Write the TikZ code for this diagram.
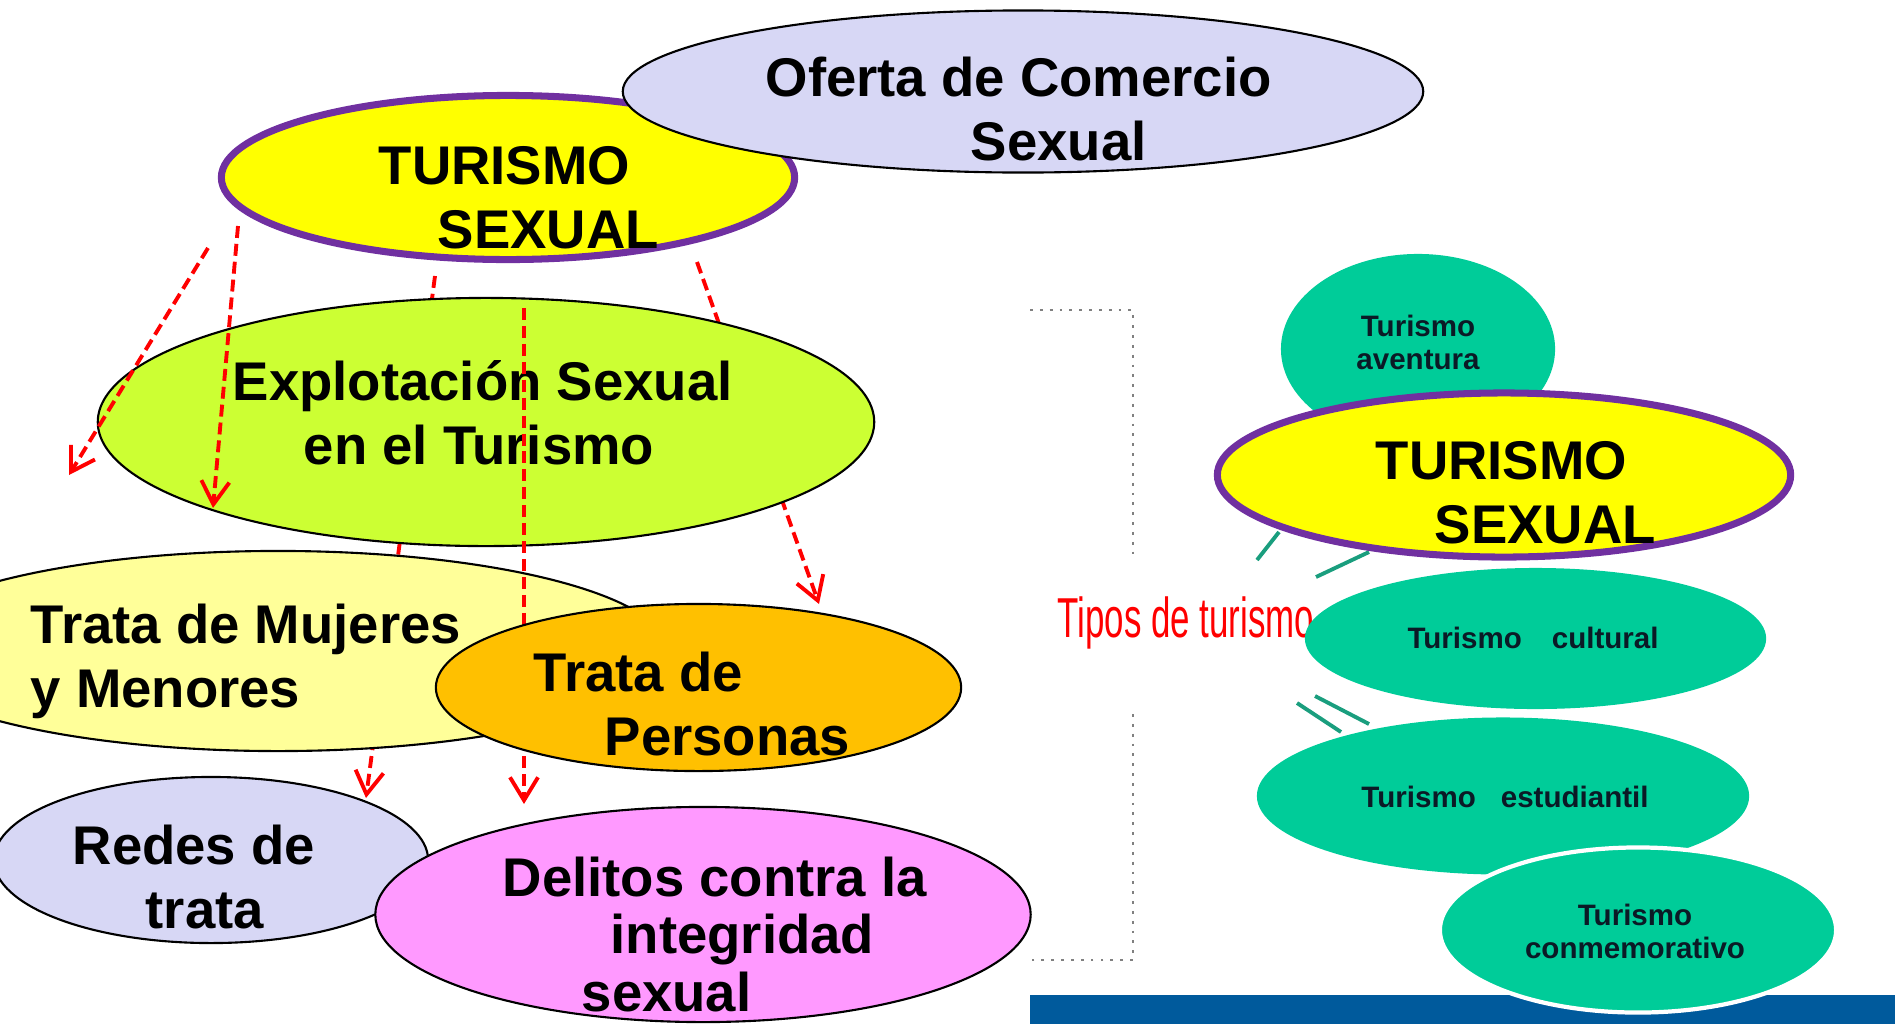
\documentclass[tikz,border=0pt]{standalone}
\usepackage{fontspec}
\setmainfont{Liberation Sans}
\usetikzlibrary{shapes.geometric,arrows.meta}
\definecolor{lavanda}{HTML}{D7D7F5}
\definecolor{lima}{HTML}{CCFF33}
\definecolor{crema}{HTML}{FFFF99}
\definecolor{naranja}{HTML}{FFC000}
\definecolor{rosa}{HTML}{FF99FF}
\definecolor{morado}{HTML}{7030A0}
\definecolor{amarillo}{HTML}{FFFF00}
\definecolor{verdeagua}{HTML}{00CC99}
\definecolor{verdelinea}{HTML}{1A9E7E}
\definecolor{azulbarra}{HTML}{005A9C}
\definecolor{tinta}{HTML}{0B1A26}

\begin{document}
\begin{tikzpicture}[x=0.01cm,y=-0.01cm,>={Straight Barb[length=2.3mm,width=2.8mm]},
  bubble/.style={ellipse,draw=black,line width=0.6pt,inner sep=0pt},
  tsbubble/.style={ellipse,draw=morado,line width=2pt,fill=amarillo,inner sep=0pt,
    minimum width=5.73cm,minimum height=1.64cm},
  tipo/.style={ellipse,fill=verdeagua,inner sep=0pt},
  bigtxt/.style={inner sep=0pt,anchor=base west,align=left,
    font=\bfseries\fontsize{15.5}{18}\selectfont},
  smalltxt/.style={inner sep=0pt,anchor=base,align=center,text=tinta,
    font=\bfseries\fontsize{8.4}{9.3}\selectfont},
  flecha/.style={red,line width=1.1pt,dash pattern=on 3.4pt off 1.7pt}]
  \useasboundingbox (0,0) rectangle (1895,1024);
  % dashed arrows that run behind the bubbles
  \coordinate (c1) at (435,276); \coordinate (c2) at (366,798);
  \coordinate (d1) at (697,262); \coordinate (d2) at (819,604);
  \draw[flecha,->] (c1) -- (c2);
  \draw[flecha,->] (d1) -- (d2);
  % TURISMO SEXUAL and the offer
  \node[tsbubble] (ts) at (508,177.5) {};
  \node[bigtxt] (tsT) at (378,248) {TURISMO\\\hspace*{0.59cm}SEXUAL};
  \node[bubble,fill=lavanda,minimum width=8.0cm,minimum height=1.62cm] (oferta) at (1023,91.5) {};
  \node[bigtxt] (ofertaT) at (765,160) {Oferta de Comercio\\\hspace*{2.05cm}Sexual};
  \node[bubble,fill=lima,minimum width=7.76cm,minimum height=2.48cm] (expl) at (486,422) {};
  \node[bigtxt] (explT) at (232,464) {Explotación Sexual\\\hspace*{0.71cm}en el Turismo};
  % arrows drawn over the green bubble
  \coordinate (a1) at (208,248); \coordinate (a2) at (69,475);
  \coordinate (b1) at (238,226); \coordinate (b2) at (213,508);
  \draw[flecha,->] (a1) -- (a2);
  \draw[flecha,->] (b1) -- (b2);
  \node[bubble,fill=crema,minimum width=7.8cm,minimum height=2.0cm] (mujeres) at (278,651) {};
  \node[bigtxt] (mujeresT) at (30,707) {Trata de Mujeres\\y Menores};
  \coordinate (v1) at (524,308); \coordinate (v2) at (524,804);
  \draw[flecha,->] (v1) -- (v2);
  \node[bubble,fill=naranja,minimum width=5.25cm,minimum height=1.67cm] (personas) at (698.5,687.5) {};
  \node[bigtxt] (personasT) at (533,755) {Trata de\\\hspace*{0.71cm}Personas};
  \node[bubble,fill=lavanda,minimum width=4.34cm,minimum height=1.66cm] (redes) at (211,860) {};
  \node[bigtxt] (redesT) at (72,928) {Redes de\\\hspace*{0.73cm}trata};
  \node[bubble,fill=rosa,minimum width=6.55cm,minimum height=2.15cm] (delitos) at (703,914.5) {};
  \node[bigtxt,font=\bfseries\fontsize{15.5}{16.3}\selectfont] (delitosT) at (502,1011)
    {Delitos contra la\\\hspace*{1.08cm}integridad\\\hspace*{0.79cm}sexual};
  % right half: types of tourism
  \draw[gray,dotted,line width=0.8pt] (1030,310) -- (1133,310) -- (1133,561);
  \draw[gray,dotted,line width=0.8pt] (1133,714) -- (1133,960) -- (1030,960);
  \node[anchor=base west,inner sep=0pt,text=red,font=\fontsize{16}{18}\selectfont] (tipos) at (1057,637)
    {\scalebox{0.62}[1]{Tipos de turismo}};
  \draw[verdelinea,line width=1.1pt] (1257,560) -- (1279,532);
  \draw[verdelinea,line width=1.1pt] (1316,577) -- (1369,552);
  \draw[verdelinea,line width=1.1pt] (1297,703) -- (1341,732);
  \draw[verdelinea,line width=1.1pt] (1315,696) -- (1369,724);
  \node[tipo,minimum width=2.74cm,minimum height=1.9cm] (aventura) at (1418,349) {};
  \node[smalltxt] (aventuraT) at (1418,369) {Turismo\\aventura};
  \node[tsbubble] (ts2) at (1504,475) {};
  \node[bigtxt] (ts2T) at (1375,543) {TURISMO\\\hspace*{0.59cm}SEXUAL};
  \node[tipo,minimum width=4.61cm,minimum height=1.41cm] (cultural) at (1535.5,638.5) {};
  \node[smalltxt] (culturalT) at (1533,648) {Turismo\hspace{0.3cm}cultural};
  \node[tipo,minimum width=4.92cm,minimum height=1.57cm] (estud) at (1503,796) {};
  \node[smalltxt] (estudT) at (1505,807) {Turismo\hspace{0.25cm}estudiantil};
  \fill[azulbarra] (1030,995) rectangle (1895,1024);
  \node[tipo,draw=white,line width=1.2pt,minimum width=3.96cm,minimum height=1.65cm] (conmem) at (1638,930) {};
  \node[smalltxt] (conmemT) at (1635,958) {Turismo\\conmemorativo};
\end{tikzpicture}
\end{document}
